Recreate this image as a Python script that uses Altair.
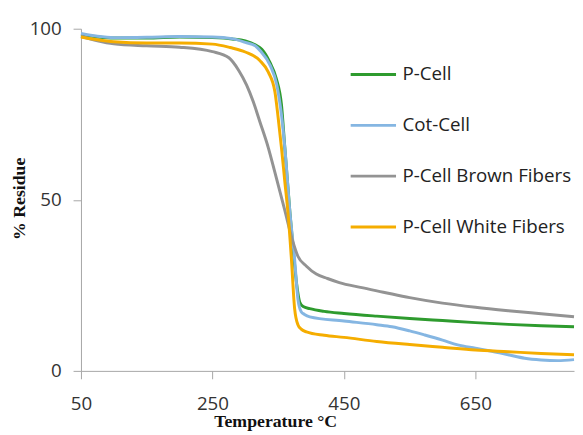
import altair as alt
import pandas as pd

series_names = ["P-Cell", "Cot-Cell", "P-Cell Brown Fibers", "P-Cell White Fibers"]
series_colors = ["#2e9b2e", "#85b6e2", "#939393", "#f5ad00"]

pcell_t = [50, 75, 100, 150, 200, 250, 280, 300, 315, 325, 337, 347, 355, 360, 368, 374, 378, 383, 388, 398, 420, 450, 500, 550, 600, 650, 700, 750, 800]
pcell_v = [98.2, 97.6, 97.3, 97.3, 97.6, 97.4, 97.0, 96.4, 95.3, 94.0, 90.3, 85.5, 77.7, 65.5, 46, 33, 25.5, 20, 18.8, 18.2, 17.4, 16.8, 16.0, 15.3, 14.7, 14.1, 13.6, 13.2, 12.9]

cot_t = [50, 75, 100, 150, 200, 250, 280, 300, 315, 323, 338, 348, 355, 360, 368, 375, 380, 385, 390, 398, 450, 500, 523, 550, 573, 600, 623, 650, 675, 700, 725, 750, 775, 800]
cot_v = [98.6, 97.8, 97.4, 97.5, 97.7, 97.6, 97.1, 96.0, 95.0, 93.5, 89.2, 83.5, 74.8, 65.5, 46, 32.6, 21, 17.3, 16.5, 15.8, 14.6, 13.5, 12.9, 11.7, 10.5, 9.0, 7.6, 6.6, 5.7, 4.7, 3.7, 3.2, 3.0, 3.3]

brown_t = [50, 75, 100, 150, 200, 250, 275, 290, 302, 312, 322, 335, 345, 360, 372, 380, 393, 408, 425, 443, 475, 510, 550, 600, 650, 700, 750, 800]
brown_v = [97.8, 96.5, 95.6, 95.0, 94.6, 93.3, 91.5, 87.8, 83.5, 78.7, 72.9, 65.2, 58, 47, 38, 33.5, 30.6, 28.3, 27, 25.8, 24.4, 23, 21.4, 19.8, 18.6, 17.6, 16.7, 15.8]

white_t = [50, 75, 100, 150, 200, 250, 277, 300, 322, 335, 345, 350, 355, 360, 365, 370, 375, 380, 385, 393, 420, 450, 500, 550, 600, 650, 700, 750, 800]
white_v = [97.6, 96.8, 96.2, 95.8, 95.8, 95.5, 94.5, 93.2, 90.7, 87.3, 81.6, 73.9, 65.2, 55.5, 46, 33, 18.2, 13.5, 12.2, 11.4, 10.4, 9.8, 8.6, 7.7, 6.9, 6.1, 5.6, 5.1, 4.7]

x_ticks = [50, 250, 450, 650]
y_ticks = [0, 50, 100]

frames = []
for name, ts, vs in zip(series_names, [pcell_t, cot_t, brown_t, white_t], [pcell_v, cot_v, brown_v, white_v]):
    frames.append(pd.DataFrame({"series": name, "temp": ts, "residue": vs}))
df = pd.concat(frames, ignore_index=True)

axis_common = dict(
    domainColor="#a6a6a6", tickColor="#a6a6a6", grid=False,
    labelFont="Open Sans", labelFontSize=19, labelColor="#333333",
    labelFlush=False, labelOverlap=False,
    titleFont="Liberation Serif", titleFontWeight="bold", titleFontSize=18, titleColor="#111111",
    tickSize=8,
)

chart = alt.Chart(df).mark_line(strokeWidth=3, interpolate="monotone").encode(
    x=alt.X("temp:Q", scale=alt.Scale(domain=[50, 800], nice=False, zero=False),
            axis=alt.Axis(values=x_ticks, title="Temperature °C", labelPadding=16,
                          titleX=197, titleY=56, titleAlign="center", titleBaseline="alphabetic",
                          **axis_common)),
    y=alt.Y("residue:Q", scale=alt.Scale(domain=[0, 100], nice=False),
            axis=alt.Axis(values=y_ticks, title="% Residue", labelPadding=12,
                          titleX=-57, titleY=172, titleAngle=270, titleAlign="center",
                          titleBaseline="alphabetic", **axis_common)),
    color=alt.Color("series:N", scale=alt.Scale(domain=series_names, range=series_colors),
                    legend=alt.Legend(title=None, orient="none", legendX=272, legendY=22,
                                      symbolType="stroke", symbolSize=2116, symbolStrokeWidth=3,
                                      labelFont="Open Sans", labelFontSize=19, labelColor="#222222",
                                      labelLimit=0, labelOffset=5, rowPadding=16.5, padding=0)),
    order=alt.Order("series_idx:Q"),
).transform_calculate(
    series_idx="indexof(" + str(series_names) + ", datum.series)"
).properties(
    width=500, height=347,
    autosize=alt.AutoSizeParams(type="none"),
    padding={"left": 74, "top": 18, "right": 1, "bottom": 62},
).configure_view(stroke=None)

chart.save("out.html", embed_options={"renderer": "svg", "actions": False})
